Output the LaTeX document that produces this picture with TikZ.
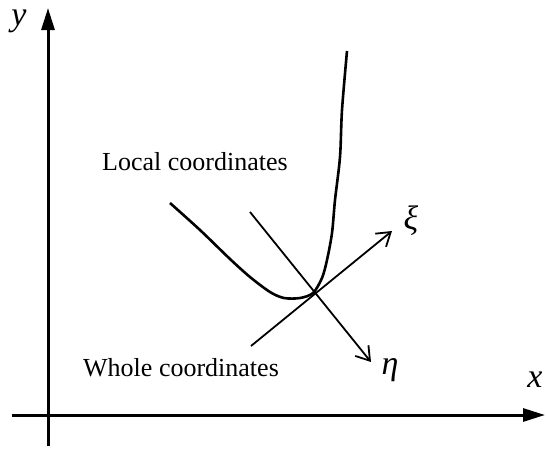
\documentclass[tikz,border=0pt]{standalone}
\usepackage{fontspec}
\setmainfont{Liberation Serif}
\usetikzlibrary{arrows.meta}
\begin{document}
\begin{tikzpicture}[x=1pt,y=-1pt,
  axis/.style={line width=3pt,-{Triangle[length=22pt,width=13pt]}},
  localaxis/.style={line width=1.8pt,-{Straight Barb[length=13pt,width=17pt,line width=1.8pt]}},
  curve/.style={line width=2.6pt,line join=round},
  lbl/.style={font=\fontsize{26}{30}\selectfont,inner sep=0pt},
  var/.style={font=\itshape\fontsize{34}{40}\selectfont,inner sep=0pt}]
\useasboundingbox (0,0) rectangle (546,448);
% global axes
\coordinate (ys) at (48,446);
\coordinate (ye) at (48,8);
\coordinate (xs) at (12,415);
\coordinate (xe) at (545,415);
\draw[axis] (ys) -- (ye);
\draw[axis] (xs) -- (xe);
% curve
\draw[curve] plot[smooth,tension=0.5] coordinates {(170,203) (200,230) (230,259) (250,277) (270,292) (284,298) (300,298) (313,293) (322,278) (327,260) (332,233) (335,200) (340,157) (342,110) (347,51)};
% local axes
\coordinate (es) at (250,212);
\coordinate (ee) at (371,362);
\coordinate (xis) at (251,346);
\coordinate (xie) at (392,231);
\draw[localaxis] (es) -- (ee);
\draw[localaxis] (xis) -- (xie);
% labels
\node[var] (ylab) at (19,21) {y};
\node[var] (xlab) at (535,380) {x};
\node[var] (xilab) at (411,221) {ξ};
\node[var] (etalab) at (390,370) {η};
\node[lbl,anchor=base west] (local) at (102,170) {Local coordinates};
\node[lbl,anchor=base west] (whole) at (83,376) {Whole coordinates};
\end{tikzpicture}
\end{document}
